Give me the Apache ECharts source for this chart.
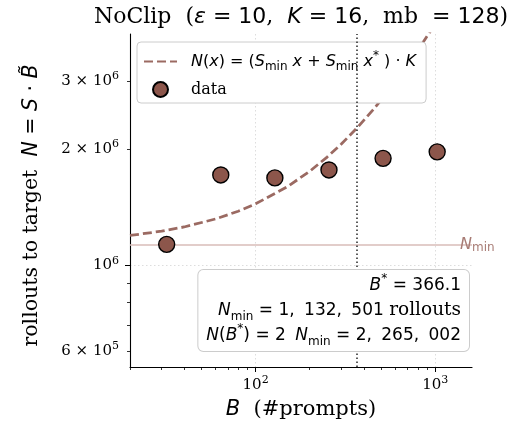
<!DOCTYPE html>
<html><head><meta charset="utf-8">
<script src="https://cdn.jsdelivr.net/npm/echarts@6/dist/echarts.min.js"></script>
<style>html,body{margin:0;padding:0;background:#fff}#c{width:521px;height:427px}</style>
</head><body><div id="c"></div>
<script>
// ---- data ----
const batchSizes = [32, 64, 128, 256, 512, 1024];
const rollouts   = [1132501, 1713000, 1683000, 1765000, 1891000, 1966000];
// fitted curve N(B)
const fitB = [20, 30, 40, 60, 80, 100, 150, 200, 250, 300, 366.1, 450, 550, 650, 750, 850, 950, 1100];
const fitN = [1194000, 1225000, 1256000, 1318000, 1380000, 1442000, 1596000, 1751000, 1906000, 2060000,
              2265002, 2525000, 2834000, 3143000, 3453000, 3762000, 4071000, 4535000];
const bStar = 366.1;
const nMin = 1132501;
// axis ticks
const xMajorTicks = [100, 1000];
const xMinorTicks = [20, 30, 40, 50, 60, 70, 80, 90, 200, 300, 400, 500, 600, 700, 800, 900];
const yMajorTicks = [1000000];
const yMinorTicks = [600000, 700000, 800000, 900000, 2000000, 3000000];
const yLabelTicks = [600000, 1000000, 2000000, 3000000];

const SERIF = 'DejaVu Serif', SANS = 'DejaVu Sans';
const BROWN = '#8c564b';

const fitPts = fitB.map((b, i) => [b, fitN[i]]);
const dataPts = batchSizes.map((b, i) => [b, rollouts[i]]);

function richSet(fs, lh, align, serifFs) {
  const base = {color: '#000', lineHeight: lh, fontWeight: 'normal'};
  if (align) base.align = align;
  const sm = Math.round(fs * 0.72);
  return {
    s:   Object.assign({fontFamily: SERIF, fontSize: serifFs || fs}, base),
    m:   Object.assign({fontFamily: SANS, fontSize: fs}, base),
    mi:  Object.assign({fontFamily: SANS, fontStyle: 'italic', fontSize: fs}, base),
    sub: Object.assign({fontFamily: SANS, fontSize: sm, verticalAlign: 'bottom'}, base),
    sup: Object.assign({fontFamily: SANS, fontSize: sm, verticalAlign: 'top'}, base),
    ssup:Object.assign({fontFamily: SERIF, fontSize: sm, verticalAlign: 'top'}, base),
    g:   Object.assign({width: 9}, base),
    sp:  Object.assign({width: 4}, base)
  };
}

function yFmt(v) {
  const r = Math.round(v);
  const e = Math.floor(Math.log10(r) + 1e-9);
  const m = Math.round(r / Math.pow(10, e));
  return (m === 1 ? '{s|10}' : '{s|' + m + ' × 10}') + '{ssup|' + e + '}';
}
function xFmt(v) {
  const e = Math.round(Math.log10(v));
  return '{s|10}{ssup|' + e + '}';
}

const chart = echarts.init(document.getElementById('c'), null, {renderer: 'canvas'});
const axisLine = {show: true, lineStyle: {color: '#000', width: 1.1}};
chart.setOption({
  animation: false,
  backgroundColor: '#fff',
  title: {
    left: 296, top: -3, textAlign: 'center',
    text: '{s|NoClip  (}{mi|ε}{m| = 10}{s|,  }{mi|K}{m| = 16}{s|,  mb }{m| = 128}{s|)}',
    textStyle: {fontWeight: 'normal', rich: richSet(22, 30)}
  },
  grid: {left: 130, right: 49, top: 34, bottom: 60},
  legend: {
    left: 137, top: 42, orient: 'vertical',
    padding: [8, 10, 5, 6], itemGap: 8,
    itemWidth: 33, itemHeight: 15,
    backgroundColor: '#fff', borderColor: '#cccccc', borderWidth: 1, borderRadius: 4,
    data: [{name: 'fit', itemStyle: {opacity: 0}}, {name: 'data', icon: 'circle'}],
    formatter: function (name) {
      if (name === 'fit') return '{g|}{mi|N}{m|(}{mi|x}{m|) = (}{mi|S}{sub|min}{mi| x}{m| + }{mi|S}{sub|min}{mi| x}{sup|*}{m| ) · }{mi|K}';
      return '{g|}{s|data}';
    },
    textStyle: {rich: richSet(16, 23)}
  },
  xAxis: [
    {type: 'log', logBase: 10, min: 20, max: 1600, position: 'bottom',
     name: '{mi|B}{s|  (#prompts)}', nameLocation: 'middle', nameGap: 31,
     nameTextStyle: {rich: richSet(21, 24)},
     axisLine: axisLine,
     axisTick: {show: true, length: 5, customValues: xMajorTicks, lineStyle: {color: '#000', width: 1}},
     axisLabel: {customValues: xMajorTicks, formatter: xFmt, margin: 8, rich: richSet(15, 20)},
     splitLine: {show: true, lineStyle: {color: '#dddddd', type: [1.5, 2.5], width: 1}},
     minorTick: {show: false}},
    {type: 'log', logBase: 10, min: 20, max: 1600, position: 'bottom', offset: 0,
     axisLine: {show: false},
     axisTick: {show: true, length: 3, customValues: xMinorTicks, lineStyle: {color: '#000', width: 0.8}},
     axisLabel: {show: false}, splitLine: {show: false}}
  ],
  yAxis: [
    {type: 'log', logBase: 10, min: 545000, max: 3970000, position: 'left',
     name: '{s|rollouts to target  }{mi|N}{m| = }{mi|S}{m| · }{mi|B̃}', nameLocation: 'middle',
     nameRotate: 90, nameGap: 86,
     nameTextStyle: {rich: richSet(20.5, 24), padding: [0, 10, 0, 0]},
     axisLine: axisLine,
     axisTick: {show: true, length: 5, customValues: yMajorTicks, lineStyle: {color: '#000', width: 1}},
     axisLabel: {customValues: yLabelTicks, formatter: yFmt, margin: 11, rich: richSet(15, 20)},
     splitLine: {show: true, lineStyle: {color: '#dddddd', type: [1.5, 2.5], width: 1}}},
    {type: 'log', logBase: 10, min: 545000, max: 3970000, position: 'left', offset: 0,
     axisLine: {show: false},
     axisTick: {show: true, length: 3, customValues: yMinorTicks, lineStyle: {color: '#000', width: 0.8}},
     axisLabel: {show: false}, splitLine: {show: false}}
  ],
  series: [
    {
      name: 'fit', type: 'line', xAxisIndex: 0, yAxisIndex: 0, data: fitPts,
      symbol: 'none', smooth: false, clip: true, z: 2,
      lineStyle: {color: '#9b6a62', width: 2.8, type: [9, 4]},
      itemStyle: {color: '#9b6a62'},
      markLine: {
        silent: true, symbol: 'none', animation: false,
        data: [
          {yAxis: nMin, lineStyle: {color: '#d9bdb8', width: 1.5, type: 'solid'},
           label: {show: true, position: 'end', distance: [-12, 0],
                   formatter: '{mi|N}{sub|min}',
                   rich: {mi: {fontFamily: SANS, fontStyle: 'italic', fontSize: 16, color: '#a87c75', lineHeight: 20},
                          sub: {fontFamily: SANS, fontSize: 12, color: '#a87c75', lineHeight: 20, verticalAlign: 'bottom'}}}},
          {xAxis: bStar, lineStyle: {color: '#333', width: 1.6, type: [1.5, 2.5]}, label: {show: false}}
        ]
      }
    },
    {
      name: 'data', type: 'scatter', xAxisIndex: 0, yAxisIndex: 0, data: dataPts,
      symbol: 'circle', symbolSize: 16, z: 5,
      itemStyle: {color: BROWN, borderColor: '#000', borderWidth: 1.4, opacity: 1}
    }
  ],
  graphic: [{
    type: 'text', right: 51, top: 269, z: 100,
    style: {
      text: '{mi|B}{sup|*}{m| = 366.1}\n{mi|N}{sub|min}{m| = 1,}{sp|}{m| 132,}{sp|}{m| 501 }{s|rollouts}\n{mi|N}{m|(}{mi|B}{sup|*}{m|) = 2}{sp|}{m| }{mi|N}{sub|min}{m| = 2,}{sp|}{m| 265,}{sp|}{m| 002}',
      rich: richSet(17, 25, 'right', 18.5),
      align: 'right',
      backgroundColor: '#fff', borderColor: '#cccccc', borderWidth: 1, borderRadius: 5,
      padding: [3, 8, 3, 8]
    }
  }]
});
</script></body></html>
